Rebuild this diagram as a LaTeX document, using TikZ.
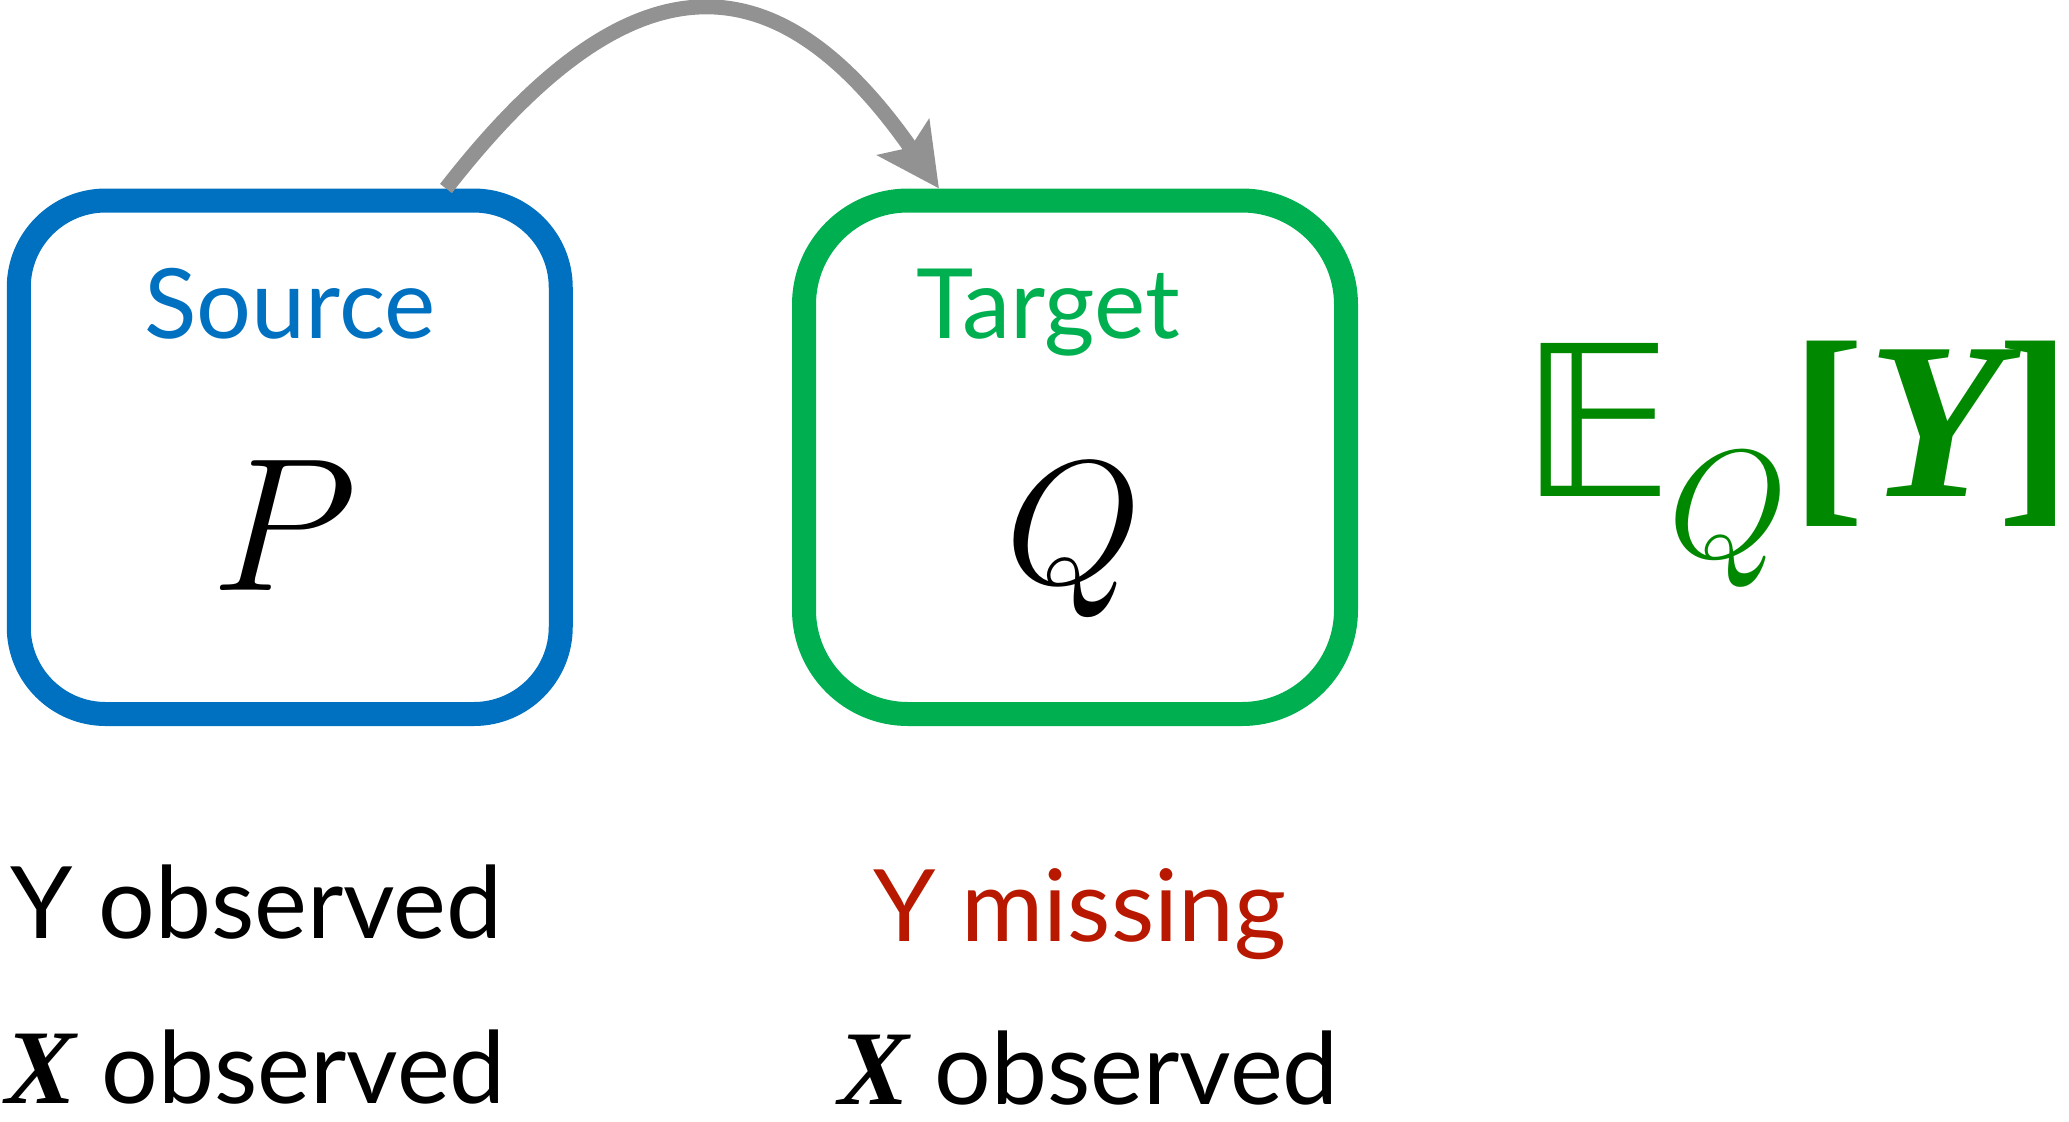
\RequirePackage{fix-cm}
\documentclass[tikz,border=0pt]{standalone}
\usepackage{graphicx}
\usepackage{amsmath,amssymb}
\usepackage{fontspec}
\setmainfont{Lato}
\newfontfamily\tms{Liberation Serif}
\newfontfamily\djv{DejaVu Sans}
\usetikzlibrary{arrows.meta}
\definecolor{srcblue}{HTML}{0070C0}
\definecolor{tgtgreen}{HTML}{00B050}
\definecolor{eqgreen}{HTML}{008900}
\definecolor{missred}{RGB}{185,24,0}
\definecolor{arrgray}{HTML}{929292}
\tikzset{
  boxbase/.style={draw, line width=12pt, inner sep=0pt, outer sep=0pt,
    minimum width=271pt, minimum height=256.75pt},
  srcbox/.style={boxbase, draw=srcblue, rounded corners=43.5pt},
  tgtbox/.style={boxbase, draw=tgtgreen, rounded corners=52pt},
  boxlabel/.style={inner sep=0pt, anchor=base, font=\fontsize{48.5}{58}\selectfont},
  bigmath/.style={inner sep=0pt, anchor=base},
  eqpart/.style={inner sep=0pt, anchor=base, text=eqgreen},
  eqbr/.style={eqpart, font=\tms\fontsize{112}{122}\selectfont\bfseries},
  bottomtxt/.style={inner sep=0pt, anchor=base west, font=\fontsize{50}{60}\selectfont},
  transfer/.style={draw=arrgray, line width=7.5pt,
    -{Stealth[length=31pt, width=31pt, inset=6pt]}}
}
\newcommand{\bivar}[1]{{\tms\fontsize{53}{60}\selectfont\bfseries\itshape #1}}
\begin{document}
\begin{tikzpicture}[x=0.5pt, y=-0.5pt]
\useasboundingbox (0,0) rectangle (2069,1121);
% boxes
\node[srcbox] (src) at (289.75,457.25) {};
\node[tgtbox] (tgt) at (1075,457.25) {};
% labels inside
\node[boxlabel, text=srcblue] (srclbl) at (290,338) {Source};
\node[boxlabel, text=tgtgreen] (tgtlbl) at (1048,338) {Target};
\node[bigmath, font=\fontsize{95}{110}\selectfont] (P) at (284,590) {$P$};
\node[bigmath, font=\fontsize{88}{100}\selectfont] (Q) at (1074,583) {$Q$};
% arrow
\coordinate (arrS) at (446,188.5);
\coordinate (arrE) at (939,188.5);
\draw[transfer] (arrS) .. controls (629,-47) and (775,-47) .. (arrE);
% expectation E_Q[Y]
\node[eqpart, font=\djv\fontsize{105}{115}\selectfont] (EQe) at (1597,496) {𝔼};
\node[eqpart, font=\fontsize{77}{85}\selectfont] (EQq) at (1728,557) {$Q$};
\node[eqbr] (EQl) at (1828,496) {[};
\node[eqbr] (EQy) at (1936,496) {\itshape Y};
\node[eqbr] (EQr) at (2035,496) {]};
% bottom texts
\node[bottomtxt] (yobs) at (10,938) {Y observed};
\node[bottomtxt] (xobs) at (5,1103) {\bivar{X} observed};
\node[bottomtxt, text=missred] (ymiss) at (873,941) {Y missing};
\node[bottomtxt] (xobs2) at (838,1104) {\bivar{X} observed};
\end{tikzpicture}
\end{document}
